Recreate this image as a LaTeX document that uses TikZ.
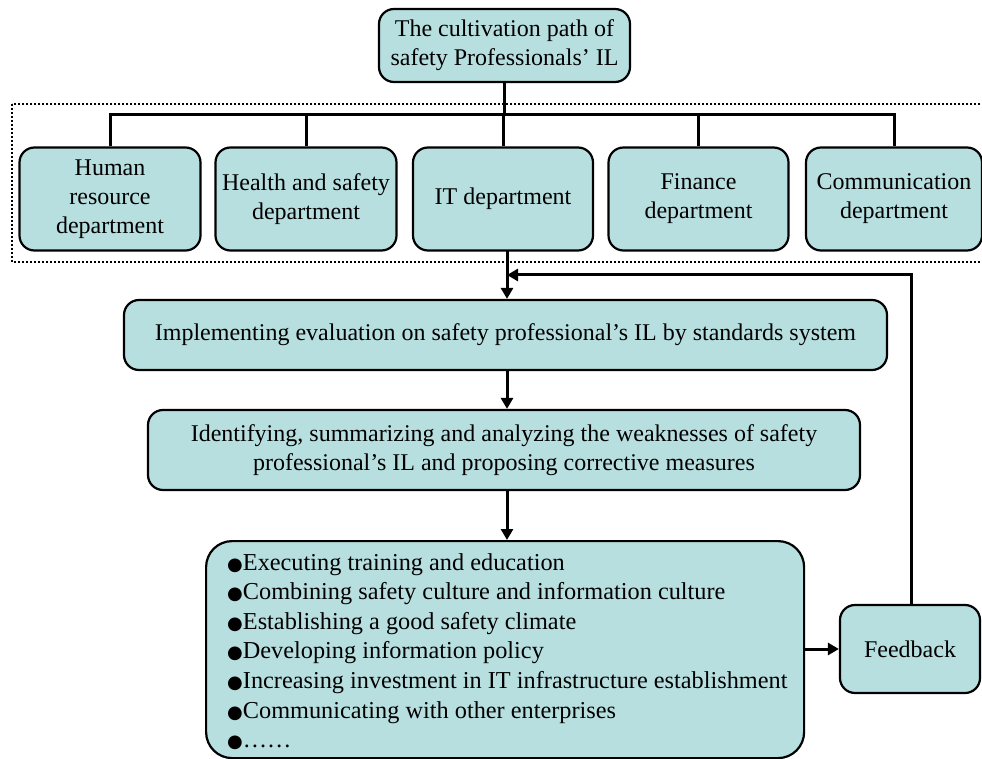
\documentclass[tikz,border=0pt]{standalone}
\usepackage{fontspec}
\setmainfont{Liberation Serif}
\newfontfamily\symfont{DejaVu Sans}
\usetikzlibrary{arrows.meta}
\definecolor{boxfill}{RGB}{184,223,224}
\newcommand{\blt}{{\symfont\fontsize{18}{18}\selectfont ●}}
\tikzset{
  box/.style={draw=black, line width=2.2pt, fill=boxfill, rounded corners=15pt, align=center, inner sep=0pt, font=\fontsize{24}{29}\selectfont},
  conn/.style={line width=3pt},
  arr/.style={line width=3pt, -{Triangle[length=11pt,width=12pt]}}
}
\begin{document}
\begin{tikzpicture}[x=1pt,y=-1pt]
\useasboundingbox (0,0) rectangle (982,759);
% dotted frame
\draw[line width=2pt, dotted] (12,104) rectangle (990,262);
% nodes
\node[box, minimum width=251pt, minimum height=73pt] (top) at (504.5,45.5) {The cultivation path of\\safety Professionals’ IL};
\node[box, minimum width=181pt, minimum height=103pt] (hr) at (110,199) {Human\\resource\\department};
\node[box, minimum width=181pt, minimum height=103pt] (hs) at (306,199) {Health and safety\\department};
\node[box, minimum width=180pt, minimum height=103pt] (it) at (503,199) {IT department};
\node[box, minimum width=180pt, minimum height=103pt] (fin) at (698.5,199) {Finance\\department};
\node[box, minimum width=176pt, minimum height=103pt] (com) at (894,199) {Communication\\department};
\node[box, minimum width=763pt, minimum height=70pt] (impl) at (505.5,335) {Implementing evaluation on safety professional’s IL by standards system};
\node[box, minimum width=712pt, minimum height=80pt] (ident) at (504,450) {Identifying, summarizing and analyzing the weaknesses of safety\\professional’s IL and proposing corrective measures};
\node[box, rounded corners=26pt, minimum width=598pt, minimum height=217pt, anchor=north west] (meas) at (205,540) {};
\node[anchor=north west, align=left, font=\fontsize{24.3}{29.6}\selectfont, inner sep=0pt] (meastext) at (227,553) {\blt Executing training and education\\\blt Combining safety culture and information culture\\\blt Establishing a good safety climate\\\blt Developing information policy\\\blt Increasing investment in IT infrastructure establishment\\\blt Communicating with other enterprises\\\blt ……};
\node[box, minimum width=140pt, minimum height=88pt] (fb) at (910,649) {Feedback};
% tree connectors
\coordinate (bar) at (504.5,115);
\draw[conn] (top.south) -- (bar);
\draw[conn] (hr.north) |- (com.north |- bar) -- (com.north);
\draw[conn] (hs.north) -- (hs.north |- bar);
\draw[conn] (it.north) -- (it.north |- bar);
\draw[conn] (fin.north) -- (fin.north |- bar);
% main flow
\coordinate (join) at (507,275);
\draw[conn] (507,250.5) -- (join);
\draw[arr] (join) -- (join |- impl.north);
\draw[arr] (join |- impl.south) -- (join |- ident.north);
\draw[arr] (join |- ident.south) -- (join |- meas.north);
\draw[arr] (meas.east |- fb.west) -- (fb.west);
\draw[arr] (911,0 |- fb.north) |- (join);
\end{tikzpicture}
\end{document}
